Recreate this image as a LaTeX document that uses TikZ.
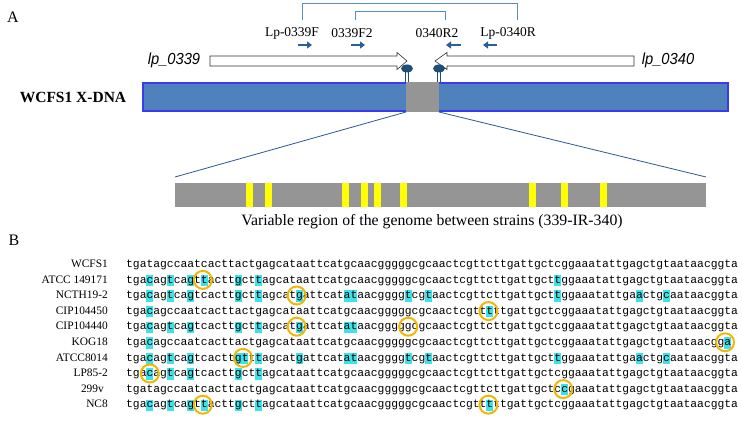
\documentclass[tikz,border=0pt]{standalone}
\usepackage{fontspec}
\setmainfont{Liberation Serif}
\setsansfont{Liberation Sans}
\setmonofont{Liberation Mono}
\usetikzlibrary{arrows.meta}
\definecolor{barblue}{HTML}{4F81BD}
\definecolor{barborder}{HTML}{3A3AF0}
\definecolor{greyreg}{HTML}{959595}
\definecolor{brk}{HTML}{5B8BC8}
\definecolor{navy}{HTML}{1F4E79}
\definecolor{primer}{HTML}{2E5E9A}
\definecolor{hlc}{HTML}{3DE3EA}
\definecolor{circ}{HTML}{F2B705}
\definecolor{ylw}{HTML}{FFFF00}
\definecolor{diag}{HTML}{2F5597}
\newcommand\hlbox[2]{\fill[hlc] ({126+(#2-1)*6.8},{#1-8.3}) rectangle ({126+(#2)*6.8},{#1+3});}
\newcommand\ringat[2]{\draw[circ,line width=2pt] ({126+(#2-0.5)*6.8},{#1-3.2}) circle[radius=9pt];}
\begin{document}
\begin{tikzpicture}[x=1pt,y=-1pt,
  plbl/.style={inner sep=0pt, font=\fontsize{13.5}{15}\selectfont},
  genelbl/.style={inner sep=0pt, font=\sffamily\itshape\fontsize{16}{18}\selectfont},
  seqtxt/.style={inner sep=0pt, anchor=base west, font=\fontsize{11.33}{13}\ttfamily},
  rowlbl/.style={inner sep=0pt, anchor=base east, font=\fontsize{11.4}{13}\selectfont},
  paneltag/.style={inner sep=0pt, font=\fontsize{16}{18}\selectfont},
  primarrow/.style={primer, line width=2pt, -{Triangle[length=5pt,width=7pt]}},
  brkline/.style={brk, line width=0.9pt},
  blockarrow/.style={draw=black!80, fill=white, line width=0.6pt},
  stem/.style={navy, line width=0.7pt},
  diagline/.style={diag, line width=0.8pt}]
\useasboundingbox (0,0) rectangle (742,422);
\fill[white] (0,0) rectangle (742,422);

% ---------- Panel A ----------
\node[paneltag] (tagA) at (13,17) {A};

% brackets
\coordinate (o1) at (302,20); \coordinate (o2) at (517,20);
\coordinate (i1) at (355,20); \coordinate (i2) at (445,20);
\draw[brkline] (o1) -- (302,3.5) -- (517,3.5) -- (o2);
\draw[brkline] (i1) -- (355,11) -- (445,11) -- (i2);

% primer labels
\node[plbl] (p1) at (292,33) {Lp-0339F};
\node[plbl] (p2) at (352,33) {0339F2};
\node[plbl] (p3) at (437,33) {0340R2};
\node[plbl] (p4) at (508,33) {Lp-0340R};

% primer arrows
\coordinate (a1s) at (298,45); \coordinate (a1e) at (312,45);
\coordinate (a2s) at (351,45); \coordinate (a2e) at (365,45);
\coordinate (a3s) at (461,45); \coordinate (a3e) at (446,45);
\coordinate (a4s) at (497,45); \coordinate (a4e) at (483,45);
\draw[primarrow] (a1s) -- (a1e);
\draw[primarrow] (a2s) -- (a2e);
\draw[primarrow] (a3s) -- (a3e);
\draw[primarrow] (a4s) -- (a4e);

% gene arrows
\draw[blockarrow] (210,56) -- (397,56) -- (397,52.5) -- (407,61) -- (397,69.5) -- (397,66) -- (210,66) -- cycle;
\draw[blockarrow] (634,56) -- (447,56) -- (447,52.5) -- (435,61) -- (447,69.5) -- (447,66) -- (634,66) -- cycle;
\node[genelbl] (g1) at (174,60) {\scalebox{0.92}[1]{lp\_0339}};
\node[genelbl] (g2) at (668,60) {\scalebox{0.92}[1]{lp\_0340}};

% main bar
\node[inner sep=0pt, font=\bfseries\fontsize{15.5}{17}\selectfont] (dna) at (73,97) {WCFS1 X-DNA};
\draw[barborder, fill=barblue, line width=1.5pt] (143,83) rectangle (728,111);
\fill[greyreg] (406,82.3) rectangle (439,111.7);

% terminators
\draw[stem] (405.6,71) -- (405.6,82.3); \draw[stem] (408.6,71) -- (408.6,82.3);
\draw[stem] (437.4,71) -- (437.4,82.3); \draw[stem] (440.4,71) -- (440.4,82.3);
\fill[navy] (407,68.5) ellipse[x radius=6pt, y radius=4pt];
\fill[navy] (439,68.5) ellipse[x radius=6pt, y radius=4pt];

% zoom lines
\coordinate (zl1) at (406,112); \coordinate (zl2) at (175,177);
\coordinate (zr1) at (439,112); \coordinate (zr2) at (706,177);
\draw[diagline] (zl1) -- (zl2);
\draw[diagline] (zr1) -- (zr2);

% variable region bar
\fill[greyreg] (175,183) rectangle (706,207);
\foreach \xs in {246,265,342,361,374,400,529,561,600}
  \fill[ylw] (\xs,183) rectangle (\xs+7.3,207);
\node[inner sep=0pt, font=\fontsize{15.8}{18}\selectfont] (vr) at (432,222)
  {Variable region of the genome between strains (339-IR-340)};

% ---------- Panel B ----------
\node[paneltag] (tagB) at (14,240) {B};

% highlights
\foreach \p in {4,7,10,12,17,20,64} {\hlbox{283.1}{\p}}
\foreach \p in {4,7,10,17,20,26,33,34,42,45,64,76,80} {\hlbox{298.7}{\p}}
\foreach \p in {4,54} {\hlbox{314.3}{\p}}
\foreach \p in {4,7,10,17,20,26,33,34} {\hlbox{329.9}{\p}}
\foreach \p in {4,89} {\hlbox{345.5}{\p}}
\foreach \p in {4,7,10,17,18,20,26,33,34,42,45,64,76,80} {\hlbox{361.1}{\p}}
\foreach \p in {4,7,10,17,20} {\hlbox{376.7}{\p}}
\foreach \p in {65} {\hlbox{392.3}{\p}}
\foreach \p in {4,7,10,12,17,20,54} {\hlbox{407.9}{\p}}

% labels and sequences
\node[rowlbl] (l0) at (108,267.5) {WCFS1};
\node[rowlbl] (l1) at (108,283.1) {ATCC 149171};
\node[rowlbl] (l2) at (108,298.7) {NCTH19-2};
\node[rowlbl] (l3) at (108,314.3) {CIP104450};
\node[rowlbl] (l4) at (108,329.9) {CIP104440};
\node[rowlbl] (l5) at (108,345.5) {KOG18};
\node[rowlbl] (l6) at (108,361.1) {ATCC8014};
\node[rowlbl] (l7) at (108,376.7) {LP85-2};
\node[rowlbl] (l8) at (104,392.3) {299v};
\node[rowlbl] (l9) at (108,407.9) {NC8};

\node[seqtxt] (s0) at (126,267.5) {tgatagccaatcacttactgagcataattcatgcaacgggggcgcaactcgttcttgattgctcggaaatattgagctgtaataacggta};
\node[seqtxt] (s1) at (126,283.1) {tgacagtcagttacttgcttagcataattcatgcaacgggggcgcaactcgttcttgattgcttggaaatattgagctgtaataacggta};
\node[seqtxt] (s2) at (126,298.7) {tgacagtcagtcacttgcttagcatgattcatataacggggtcgtaactcgttcttgattgcttggaaatattgaactgcaataacggta};
\node[seqtxt] (s3) at (126,314.3) {tgacagccaatcacttactgagcataattcatgcaacgggggcgcaactcgtttttgattgctcggaaatattgagctgtaataacggta};
\node[seqtxt] (s4) at (126,329.9) {tgacagtcagtcacttgcttagcatgattcatataacgggggcgcaactcgttcttgattgctcggaaatattgagctgtaataacggta};
\node[seqtxt] (s5) at (126,345.5) {tgacagccaatcacttactgagcataattcatgcaacgggggcgcaactcgttcttgattgctcggaaatattgagctgtaataacgga};
\node[seqtxt] (s6) at (126,361.1) {tgacagtcagtcacttgtttagcatgattcatataacggggtcgtaactcgttcttgattgcttggaaatattgaactgcaataacggta};
\node[seqtxt] (s7) at (126,376.7) {tgacagtcagtcacttgcttagcataattcatgcaacgggggcgcaactcgttcttgattgctcggaaatattgagctgtaataacggta};
\node[seqtxt] (s8) at (126,392.3) {tgatagccaatcacttactgagcataattcatgcaacgggggcgcaactcgttcttgattgctccgaaatattgagctgtaataacggta};
\node[seqtxt] (s9) at (126,407.9) {tgacagtcagttacttgcttagcataattcatgcaacgggggcgcaactcgtttttgattgctcggaaatattgagctgtaataacggta};

% rings
\ringat{283.1}{11.8}
\ringat{298.7}{25.6}
\ringat{314.3}{53.8}
\ringat{329.9}{25.6}
\ringat{329.9}{42}
\ringat{345.5}{88.6}
\ringat{361.1}{17.7}
\ringat{376.7}{4}
\ringat{392.3}{64.8}
\ringat{407.9}{11.8}
\ringat{407.9}{53.8}
\end{tikzpicture}
\end{document}
